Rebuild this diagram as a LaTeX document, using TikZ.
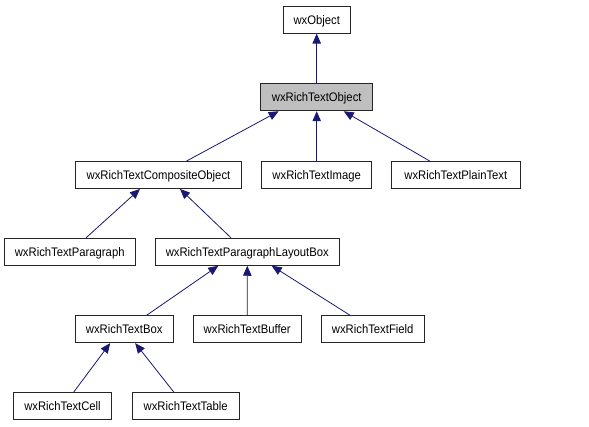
\documentclass[tikz,border=0pt]{standalone}
\usepackage{fontspec}
\setmainfont{Liberation Sans}[FakeStretch=0.91]
\usepackage{tikz}
\usetikzlibrary{arrows.meta}
\definecolor{edgeblue}{HTML}{191970}
\tikzstyle{classbox}=[rectangle,draw=black!85,fill=white,line width=0.9pt,minimum height=27pt,inner sep=0pt,text height=8.9pt,text depth=0pt,font=\fontsize{12.4}{14}\selectfont]
\tikzstyle{inherit} = [draw,edgeblue,line width=0.8pt,{Triangle[length=10pt,width=8.5pt]}-]

\begin{document}
\begin{tikzpicture}[x=1pt,y=-1pt]
    \useasboundingbox (0,0) rectangle (589,427);
    % First we draw the classes
    \foreach \pos/\name/\boxw/\label in {{(316.7,19.7)/Obj/66.7/wxObject},
        {(158.5,175)/Comp/165.6/wxRichTextCompositeObject}, {(316.7,175)/Img/110/wxRichTextImage}, {(455.8,175)/Plain/128.3/wxRichTextPlainText},
        {(69.7,251.8)/Para/130.7/wxRichTextParagraph}, {(247.3,251.8)/Layout/184/wxRichTextParagraphLayoutBox},
        {(124.2,329.2)/Box/98.3/wxRichTextBox}, {(247.2,329.2)/Buf/107.7/wxRichTextBuffer}, {(372.7,329.2)/Field/103.3/wxRichTextField},
        {(62.5,406.3)/Cell/98.3/wxRichTextCell}, {(185.7,406.3)/Table/106.7/wxRichTextTable}}
        \node[classbox,minimum width=\boxw pt] (\name) at \pos {\label};

    % the class itself is grey
    \node[classbox,fill=black!25,minimum width=112pt] (RTO) at (316.7,97.3) {wxRichTextObject};

    % Connect base and derived classes
    \foreach \source/\dest/\sx/\dx in {Obj/RTO/0/0, RTO/Comp/-38/28, RTO/Img/0/0, RTO/Plain/27/-26,
        Comp/Para/-18.5/16.3, Comp/Layout/21.5/-16.3,
        Layout/Box/-29/22.5, Layout/Buf/0/0, Layout/Field/24.4/-22.7,
        Box/Cell/-14/11, Box/Table/11/-11.7}
          \path[inherit] ([xshift=\sx pt]\source.south) -- ([xshift=\dx pt]\dest.north);
\end{tikzpicture}
\end{document}
